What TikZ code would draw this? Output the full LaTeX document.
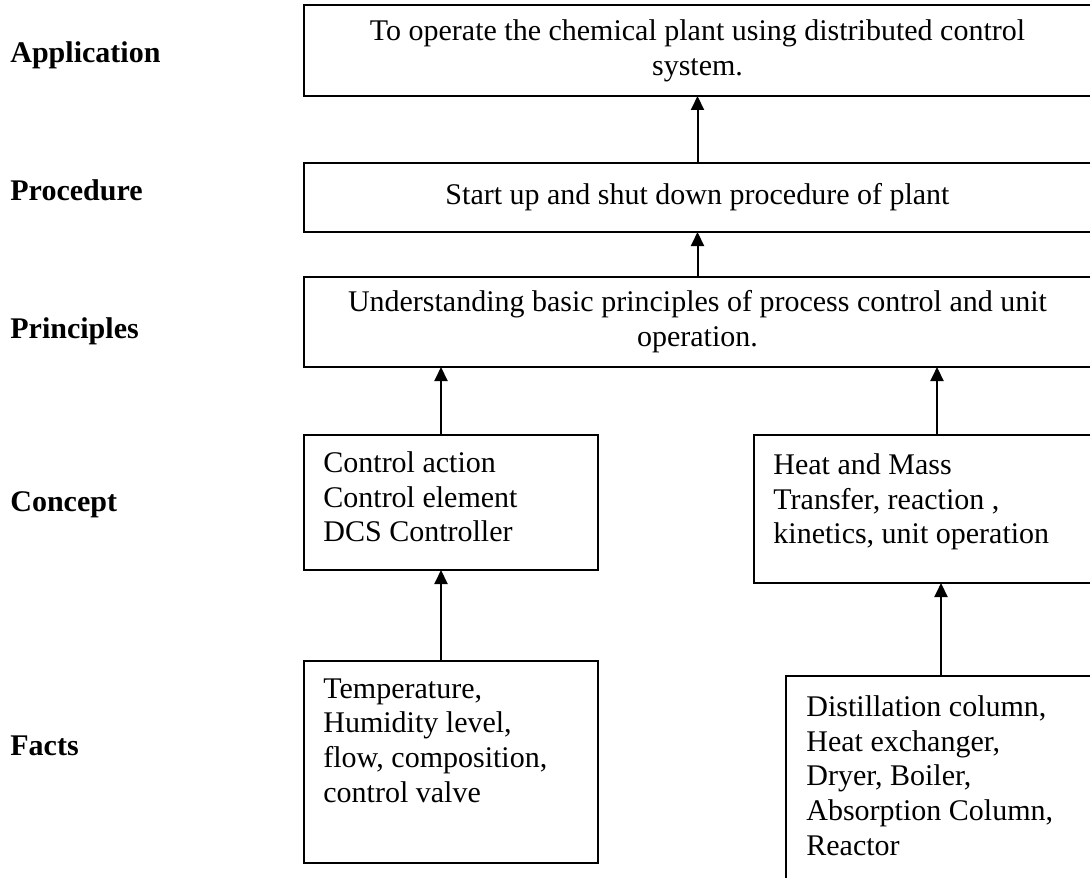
\documentclass[tikz,border=0pt]{standalone}
\usepackage{fontspec}
\setmainfont{Liberation Serif}
\usetikzlibrary{arrows.meta}
\begin{document}
\begin{tikzpicture}[x=0.5pt,y=-0.5pt,
  every node/.style={font=\fontsize{15}{17.4}\selectfont},
  box/.style={draw,line width=1pt,inner sep=0pt,outer sep=0pt,anchor=north west},
  body/.style={inner sep=0pt,anchor=north west,align=left},
  level/.style={font=\fontsize{15}{17.4}\selectfont\bfseries,inner sep=0pt,anchor=base west},
  arr/.style={line width=1pt,-{Triangle[length=7pt,width=6.5pt]}}]
\useasboundingbox (0,0) rectangle (1090,877);
\clip (0,0) rectangle (1090,877);

% level names in the left column
\node[level] (lapp)  at (10,63)  {Application};
\node[level] (lproc) at (10,200) {Procedure};
\node[level] (lprin) at (10,338) {Principles};
\node[level] (lcon)  at (10,511) {Concept};
\node[level] (lfac)  at (10,755) {Facts};

% full-width boxes
\node[box,minimum width=393.5pt,minimum height=45.5pt,align=center] (app) at (304,5)
  {To operate the chemical plant using distributed control\\system.};
\node[box,minimum width=393.5pt,minimum height=34.5pt,align=center] (proc) at (304,163)
  {Start up and shut down procedure of plant};
\node[box,minimum width=393.5pt,minimum height=45pt,align=center] (prin) at (304,277)
  {Understanding basic principles of process control and unit\\operation.};

% concept and fact boxes
\node[box,minimum width=147pt,minimum height=67.5pt] (conL) at (304,435) {};
\node[box,minimum width=183pt,minimum height=74pt]   (conR) at (754,435) {};
\node[box,minimum width=147pt,minimum height=101pt]  (facL) at (304,661) {};
\node[box,minimum width=155pt,minimum height=125pt]  (facR) at (786,676) {};

\node[body] (conLtext) at ([xshift=9.5pt,yshift=-8pt]conL.north west)
  {Control action\\Control element\\DCS Controller};
\node[body] (conRtext) at ([xshift=9.5pt,yshift=-9pt]conR.north west)
  {Heat and Mass\\Transfer, reaction ,\\kinetics, unit operation};
\node[body] (facLtext) at ([xshift=9.5pt,yshift=-8.5pt]facL.north west)
  {Temperature,\\Humidity level,\\flow, composition,\\control valve};
\node[body] (facRtext) at ([xshift=10pt,yshift=-9.5pt]facR.north west)
  {Distillation column,\\Heat exchanger,\\Dryer, Boiler,\\Absorption Column,\\Reactor};

% connectors
\coordinate (cl) at ([xshift=-5pt]conL.north);
\coordinate (fl) at ([xshift=-5pt]facL.north);
\draw[arr] (proc.north) -- (app.south);
\draw[arr] (prin.north) -- (proc.south);
\draw[arr] (cl) -- (cl |- prin.south);
\draw[arr] (conR.north) -- (conR.north |- prin.south);
\draw[arr] (fl) -- (fl |- conL.south);
\draw[arr] (facR.north) -- (facR.north |- conR.south);
\end{tikzpicture}
\end{document}
